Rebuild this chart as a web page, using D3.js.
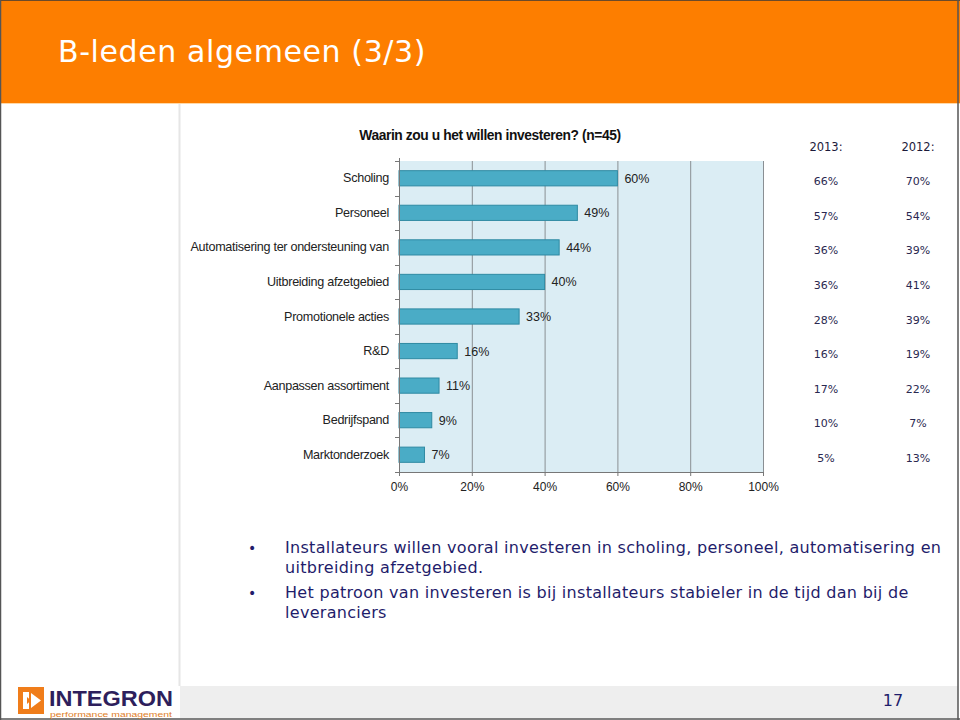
<!DOCTYPE html>
<html><head><meta charset="utf-8">
<script src="https://cdn.jsdelivr.net/npm/d3@7"></script>
<style>
html,body{margin:0;padding:0;background:#fff;}
svg{display:block;}
</style></head>
<body>
<svg id="c" width="960" height="720"></svg>
<script>
const slideTitle = "B-leden algemeen (3/3)";
const chartTitle = "Waarin zou u het willen investeren? (n=45)";
const categories = ["Scholing","Personeel","Automatisering ter ondersteuning van","Uitbreiding afzetgebied","Promotionele acties","R&D","Aanpassen assortiment","Bedrijfspand","Marktonderzoek"];
const values = [60,49,44,40,33,16,11,9,7];
const yearLabels = ["2013:","2012:"];
const values2013 = ["66%","57%","36%","36%","28%","16%","17%","10%","5%"];
const values2012 = ["70%","54%","39%","41%","39%","19%","22%","7%","13%"];
const xTicks = [0,20,40,60,80,100];
const bullets = [
  ["Installateurs willen vooral investeren in scholing, personeel, automatisering en","uitbreiding afzetgebied."],
  ["Het patroon van investeren is bij installateurs stabieler in de tijd dan bij de","leveranciers"]
];
const pageNumber = "17";

const svg = d3.select("#c");

svg.append("rect").attr("x",0).attr("y",0).attr("width",960).attr("height",720).attr("fill","#fff");
// header
svg.append("rect").attr("x",0).attr("y",0).attr("width",960).attr("height",103).attr("fill","#fd7e00");
svg.append("line").attr("x1",0).attr("x2",960).attr("y1",0.5).attr("y2",0.5).attr("stroke","#6b4a2a").attr("stroke-width",1);
svg.append("text").attr("x",58).attr("y",62).attr("fill","#fff")
  .attr("font-family","DejaVu Sans").attr("font-size",30).attr("letter-spacing",0.6).text(slideTitle);
svg.append("line").attr("x1",0).attr("x2",960).attr("y1",103.5).attr("y2",103.5).attr("stroke","#ffd9a8").attr("stroke-width",1);

// left panel divider
svg.append("line").attr("x1",179.5).attr("x2",179.5).attr("y1",104).attr("y2",686).attr("stroke","#e6e6e6").attr("stroke-width",2);
// footer band
svg.append("rect").attr("x",180).attr("y",686).attr("width",778).attr("height",32).attr("fill","#eeeeee");

// outer border
svg.append("line").attr("x1",0.5).attr("x2",0.5).attr("y1",0).attr("y2",720).attr("stroke","#555").attr("stroke-width",1.5);
svg.append("line").attr("x1",958).attr("x2",958).attr("y1",0).attr("y2",720).attr("stroke","#555").attr("stroke-width",1.5);
svg.append("line").attr("x1",0).attr("x2",960).attr("y1",719).attr("y2",719).attr("stroke","#555").attr("stroke-width",1.5);

// chart
const x = d3.scaleLinear().domain([0,100]).range([399,763]);
const y = d3.scaleBand().domain(categories).range([161,472]).paddingInner(0.56).paddingOuter(0.28);
const yOuter = d3.scaleBand().domain(categories).range([161,472]);

svg.append("text").attr("x",490).attr("y",140).attr("text-anchor","middle")
  .attr("font-family","Liberation Sans, Arial").attr("font-weight","bold").attr("font-size",13.8)
  .attr("letter-spacing",-0.4).attr("fill","#111").text(chartTitle);

svg.append("rect").attr("x",x(0)).attr("y",161).attr("width",x(100)-x(0)).attr("height",472-161).attr("fill","#dbedf4");

svg.append("g").selectAll("line").data(xTicks.filter(d=>d>0)).join("line")
  .attr("x1",d=>x(d)+0.5).attr("x2",d=>x(d)+0.5).attr("y1",161).attr("y2",472)
  .attr("stroke","#8a8f93").attr("stroke-width",1);

svg.append("g").selectAll("rect").data(values).join("rect")
  .attr("x",x(0)).attr("y",(d,i)=>y(categories[i])).attr("width",d=>x(d)-x(0)).attr("height",y.bandwidth())
  .attr("fill","#4aacc6").attr("stroke","#2f8aa3").attr("stroke-width",1);

svg.append("g").selectAll("text").data(values).join("text")
  .attr("x",d=>x(d)+7).attr("y",(d,i)=>y(categories[i])+y.bandwidth()/2+4.5)
  .attr("font-family","Liberation Sans, Arial").attr("font-size",12.5).attr("fill","#222")
  .text(d=>d+"%");

// left axis
const yAxisG = svg.append("g");
yAxisG.append("line").attr("x1",x(0)+0.5).attr("x2",x(0)+0.5).attr("y1",158).attr("y2",472).attr("stroke","#777");
const bounds = categories.map(c=>yOuter(c)).concat([472]);
yAxisG.selectAll("line.t").data(bounds).join("line").attr("class","t")
  .attr("x1",x(0)-4).attr("x2",x(0)).attr("y1",d=>Math.round(d)+0.5).attr("y2",d=>Math.round(d)+0.5).attr("stroke","#777");
svg.append("g").selectAll("text").data(categories).join("text")
  .attr("x",389).attr("y",c=>yOuter(c)+yOuter.bandwidth()/2+4).attr("text-anchor","end")
  .attr("font-family","Liberation Sans, Arial").attr("font-size",12.6).attr("letter-spacing",-0.3).attr("fill","#222")
  .text(c=>c);

// bottom axis
const xAxis = d3.axisBottom(x).tickValues(xTicks).tickFormat(d=>d+"%").tickSize(4).tickPadding(6);
const xg = svg.append("g").attr("transform","translate(0,472)").call(xAxis);
xg.select(".domain").attr("stroke","#777");
xg.selectAll(".tick line").attr("stroke","#777");
xg.selectAll("text").attr("font-family","Liberation Sans, Arial").attr("font-size",12).attr("fill","#222");

// right table
const colX = [826, 918];
svg.append("g").selectAll("text").data(yearLabels).join("text")
  .attr("x",(d,i)=>colX[i]).attr("y",151).attr("text-anchor","middle")
  .attr("font-family","DejaVu Sans").attr("font-size",11.5).attr("fill","#1c1a3a").text(d=>d);
[values2013, values2012].forEach((vals,k)=>{
  svg.append("g").selectAll("text").data(vals).join("text")
    .attr("x",colX[k]).attr("y",(d,i)=>yOuter(categories[i])+yOuter.bandwidth()/2+7)
    .attr("text-anchor","middle").attr("font-family","DejaVu Sans").attr("font-size",11)
    .attr("fill","#2a2850").text(d=>d);
});

// bullets
const lineYs = [[553,573],[598,618]];
bullets.forEach((b,i)=>{
  svg.append("text").attr("x",248).attr("y",lineYs[i][0]).attr("font-family","DejaVu Sans").attr("font-size",14).attr("fill","#1f1d6b").text("•");
  b.forEach((ln,j)=>{
    svg.append("text").attr("x",285).attr("y",lineYs[i][j]).attr("font-family","DejaVu Sans")
      .attr("font-size",16).attr("fill","#1f1d6b").attr("letter-spacing",0.3).text(ln);
  });
});

// page number
svg.append("text").attr("x",893).attr("y",706).attr("text-anchor","middle").attr("font-family","DejaVu Sans")
  .attr("font-size",16).attr("fill","#1f1d6b").text(pageNumber);

// logo
const logo = svg.append("g");
logo.append("rect").attr("x",18).attr("y",687).attr("width",26).attr("height",27).attr("fill","#f07d1a");
logo.append("rect").attr("x",23).attr("y",692).attr("width",6).attr("height",17).attr("fill","#fff");
logo.append("path").attr("d","M31,693 L41,700.5 L31,708 Z").attr("fill","#fff");
logo.append("path").attr("d","M27,697 L31,700.5 L27,704 Z").attr("fill","#f07d1a");
logo.append("text").attr("x",49).attr("y",706).attr("font-family","Liberation Sans Narrow, Liberation Sans, Arial")
  .attr("font-weight","bold").attr("font-size",22).attr("fill","#2e1f5c").attr("textLength",124).attr("lengthAdjust","spacingAndGlyphs").text("INTEGRON");
logo.append("text").attr("x",50).attr("y",716.5).attr("font-family","Liberation Sans, Arial")
  .attr("font-size",7.5).attr("fill","#e0802a").attr("textLength",122).attr("lengthAdjust","spacingAndGlyphs").text("performance management");
</script>
</body></html>
